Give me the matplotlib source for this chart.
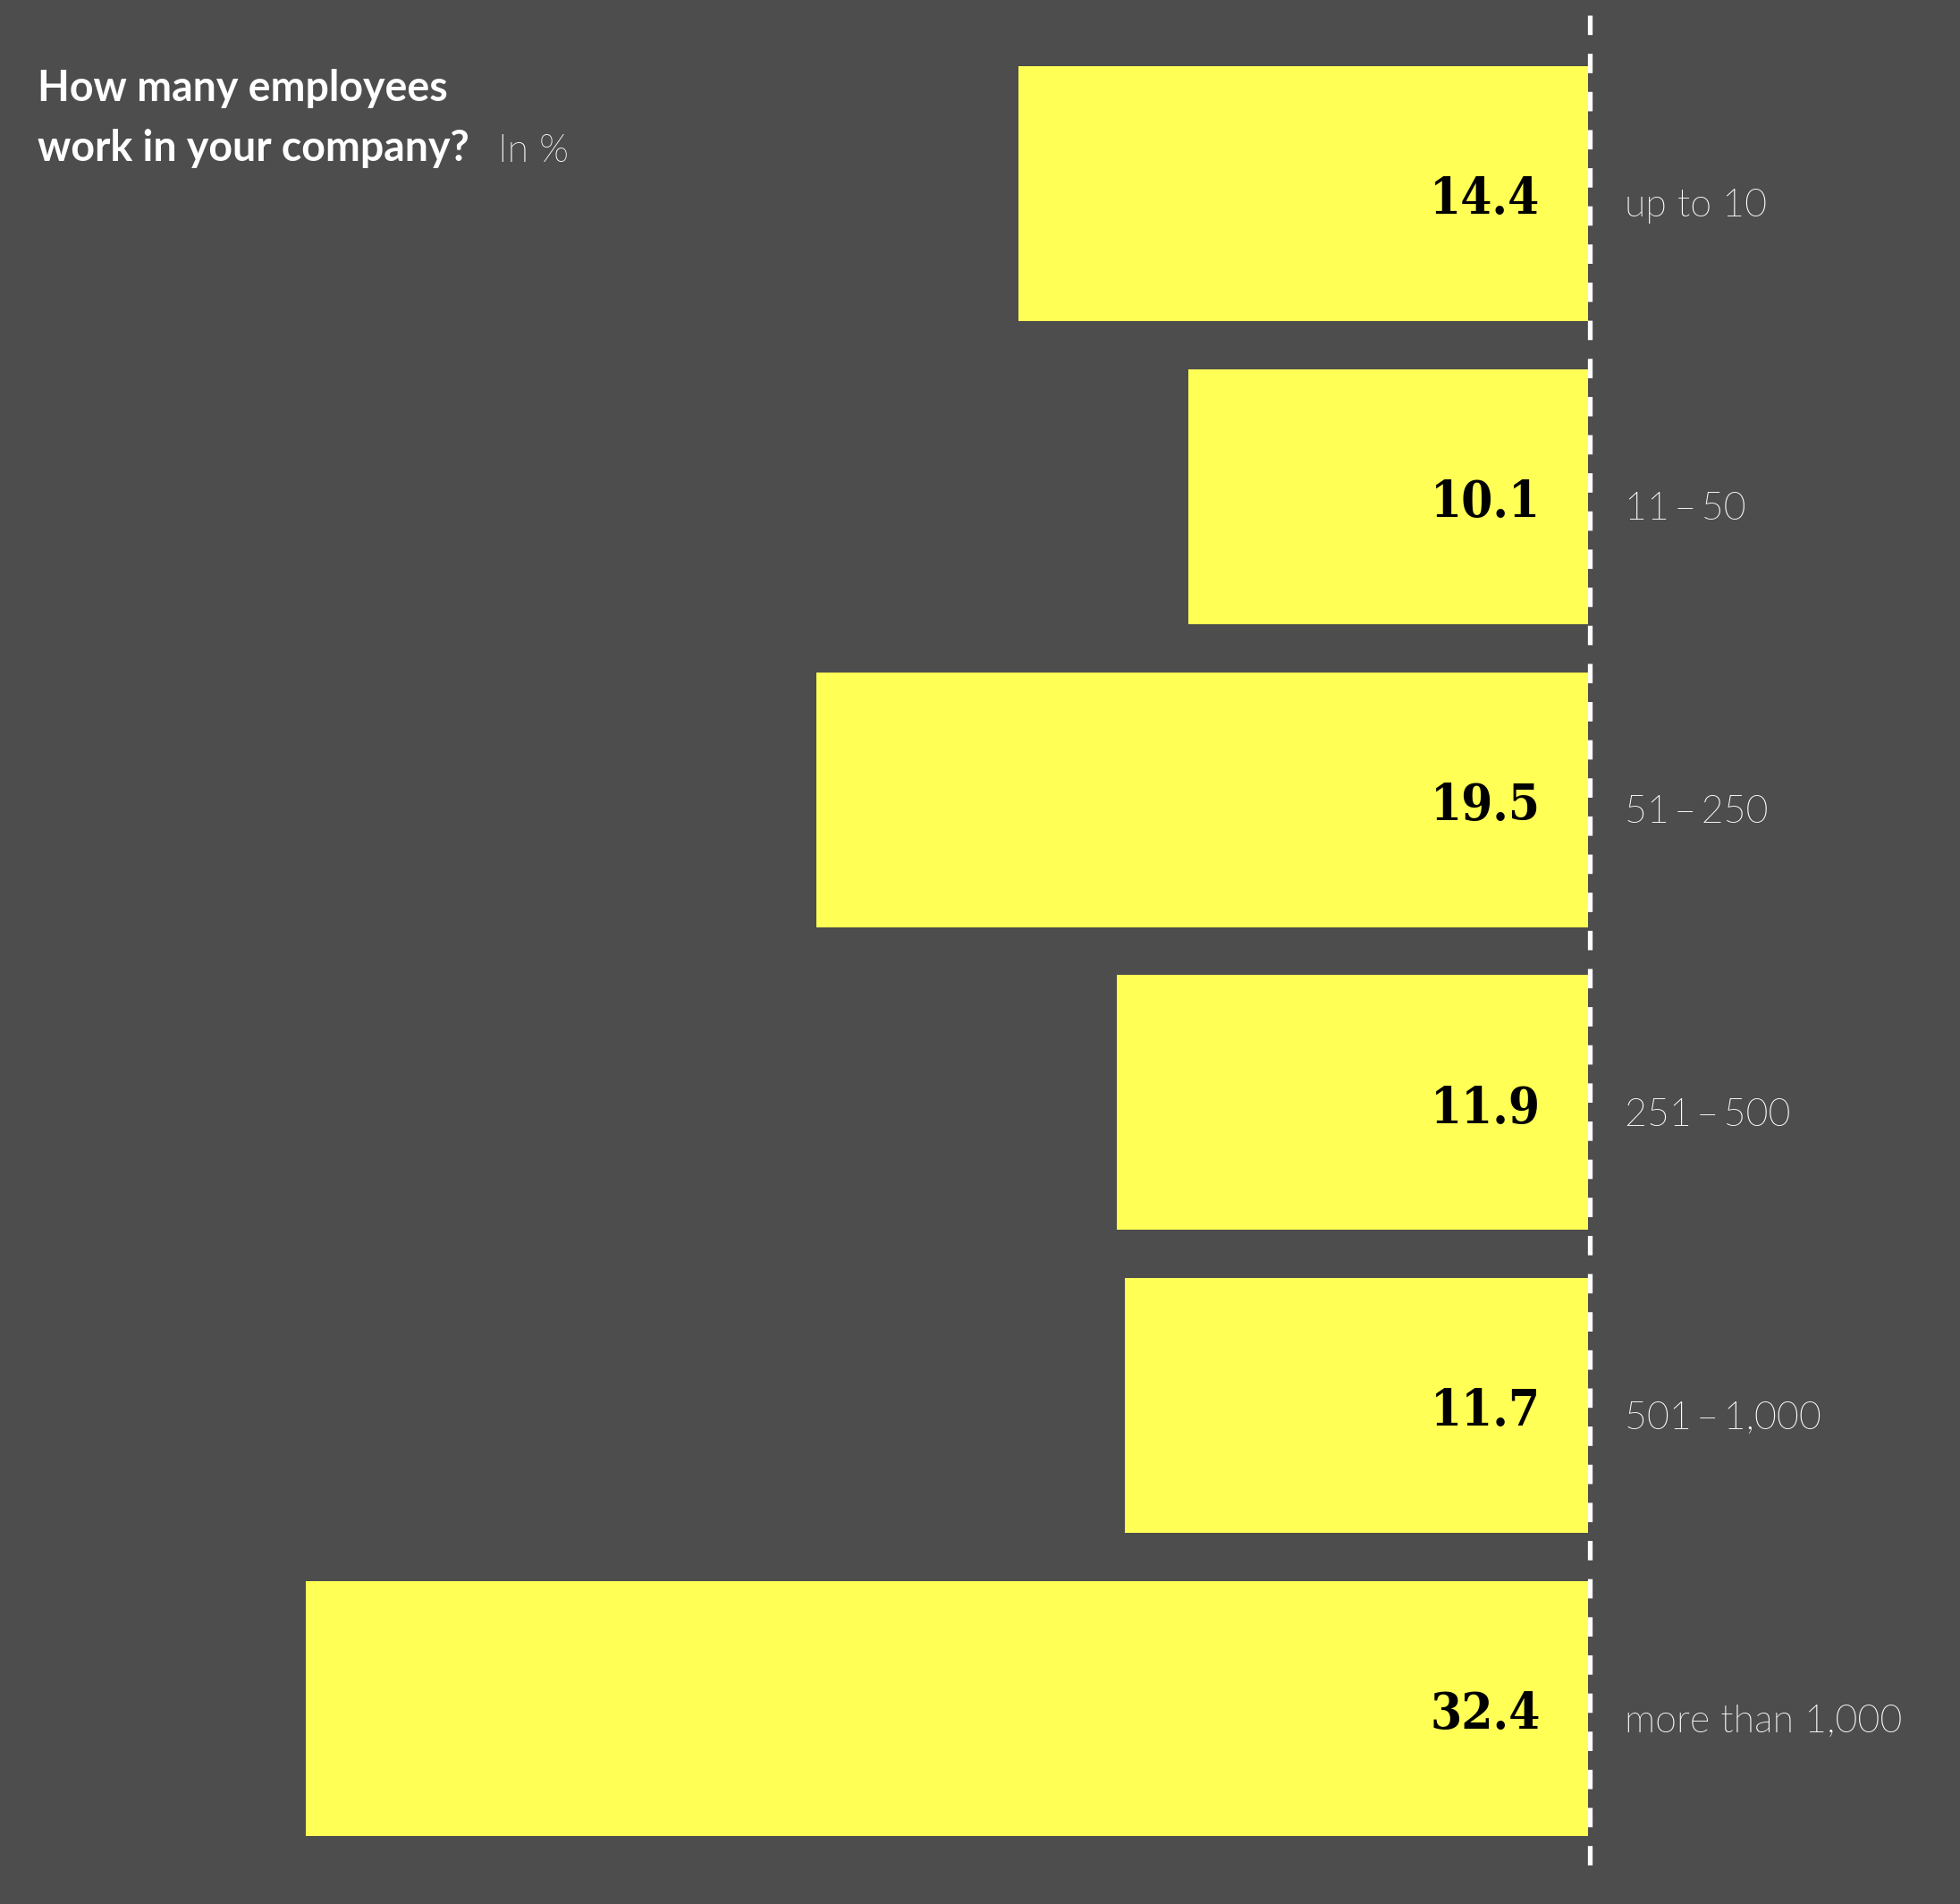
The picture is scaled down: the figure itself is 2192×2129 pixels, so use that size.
import matplotlib
matplotlib.use("Agg")
import matplotlib.pyplot as plt
from matplotlib import font_manager as fm

# Survey data: company size distribution (in %)
categories = ["up to 10", "11\u2009\u2013\u200950", "51\u2009\u2013\u2009250",
              "251\u2009\u2013\u2009500", "501\u2009\u2013\u20091,000", "more than 1,000"]
values = [14.4, 10.1, 19.5, 11.9, 11.7, 32.4]
value_labels = ["14.4", "10.1", "19.5", "11.9", "11.7", "32.4"]

title_lines = ["How many employees", "work in your company?"]
title_unit = "In %"

BG = "#4d4d4d"
BAR = "#ffff55"
TEXT = "#ffffff"


def light_sans(size):
    """Pick a light (not hairline) sans weight if one is installed."""
    best = None
    for f in fm.fontManager.ttflist:
        if f.name == "Lato" and f.style == "normal":
            w = f.weight if isinstance(f.weight, int) else 400
            if 250 <= w <= 350:
                best = f.fname
                break
    if best:
        return fm.FontProperties(fname=best, size=size)
    return fm.FontProperties(family=["Lato", "DejaVu Sans"], weight="normal", size=size)


def value_font(size):
    """Bold serif for the value labels, condensed cut when available."""
    for f in fm.fontManager.ttflist:
        if f.name == "DejaVu Serif" and f.weight in ("bold", 700) \
                and f.stretch == "condensed" and f.style == "normal":
            return fm.FontProperties(fname=f.fname, size=size)
    return fm.FontProperties(family="DejaVu Serif", weight="bold", size=size * 0.93)


W, H = 2192, 2129
DPI = 100
fig = plt.figure(figsize=(W / DPI, H / DPI), dpi=DPI, facecolor=BG)
ax = fig.add_axes([0, 0, 1, 1], facecolor=BG)

px_per_unit = (1776 - 342) / 32.4
ax.set_xlim(1776 / px_per_unit, (1776 - W) / px_per_unit)
pitch = 338.8
ax.set_ylim((H - 216.5) / pitch, -216.5 / pitch)

ypos = list(range(len(values)))
ax.barh(ypos, values, height=285 / pitch, color=BAR, linewidth=0, zorder=2)

# dashed baseline at zero
lw = 3.8
ax.plot([-2 / px_per_unit, -2 / px_per_unit],
        [(16.7 - 216.5) / pitch, (2092.7 - 216.5) / pitch],
        color="white", lw=lw, linestyle=(0, (15.6 / lw, 15.1 / lw)),
        solid_capstyle="butt", dash_capstyle="butt", zorder=3)

cat_font = light_sans(31)
val_font = value_font(40.5)
for i, (v, lab, cat) in enumerate(zip(values, value_labels, categories)):
    ax.annotate(lab, xy=(0, i), xytext=(-38.5, -16.3), textcoords="offset points",
                ha="right", va="baseline", fontproperties=val_font,
                color="black", zorder=4)
    ax.annotate(cat, xy=(0, i), xytext=(29.5, -18.6), textcoords="offset points",
                ha="left", va="baseline", fontproperties=cat_font,
                color=TEXT, zorder=4)

ax.axis("off")

for line, base in zip(title_lines, [113, 180]):
    fig.text(42 / W, 1 - base / H, line, ha="left", va="baseline",
             fontsize=33.5, fontweight="bold", family=["Lato", "DejaVu Sans"], color="white")
fig.text(557 / W, 1 - 181 / H, title_unit, ha="left", va="baseline",
         fontproperties=light_sans(31), color=TEXT)

fig.savefig("out.png", dpi=DPI, facecolor=BG)
